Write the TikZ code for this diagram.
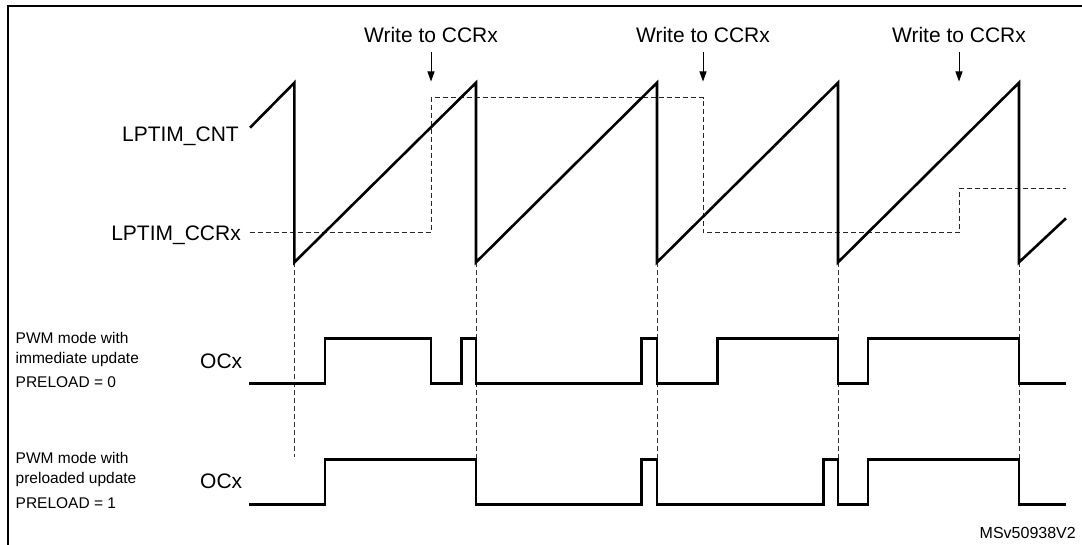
\documentclass[tikz,border=0pt]{standalone}
\usepackage{fontspec}
\setmainfont{Liberation Sans}
\usetikzlibrary{arrows.meta}
\usetikzlibrary{positioning}

\begin{document}
\begin{tikzpicture}[x=1pt, y=-1pt,
		lbl/.style  = {inner sep=0pt, font=\fontsize{21}{25}\selectfont},
		note/.style = {inner sep=0pt, align=left, font=\fontsize{15.5}{20}\selectfont},
		sig/.style  = {line width=2.6pt, line join=miter},
		ccr/.style  = {draw=black!85, line width=1pt, dash pattern=on 5pt off 3pt},
		vline/.style = {draw=black!80, line width=0.9pt, dash pattern=on 5pt off 3pt},
		wr/.style   = {-{Triangle[length=10pt, width=7pt]}, line width=1pt}
		]
		\useasboundingbox (0,0) rectangle (1082,545);
		\clip (0,0) rectangle (1082,545);
		
		%Frame
		\draw[line width=2.3pt] (8,560) -- (8,6) -- (1090,6);
		
		%Nodes
		\node[lbl, anchor=base]			(w1)	at	(431, 43)		{Write to CCRx};
		\node[lbl, anchor=base]			(w2)	at	(703, 43)		{Write to CCRx};
		\node[lbl, anchor=base]			(w3)	at	(959, 43)		{Write to CCRx};
		\coordinate						(t1)	at	(431, 81.5);
		\coordinate						(t2)	at	(703, 81.5);
		\coordinate						(t3)	at	(959, 81.5);
		
		\node[lbl, anchor=base east]	(cnt)	at	(239, 142)		{LPTIM\_CNT};
		\node[lbl, anchor=base east]	(ccr)	at	(241, 240.7)	{LPTIM\_CCRx};
		
		\node[note, anchor=north west]	(m1)	at	(15.5, 332.5)	{PWM mode with\\immediate update\\[3.4pt]PRELOAD = 0};
		\node[lbl, anchor=base west]	(oc1)	at	(200, 368.3)	{OCx};
		\node[note, anchor=north west]	(m2)	at	(15.5, 452.5)	{PWM mode with\\preloaded update\\[4.4pt]PRELOAD = 1};
		\node[lbl, anchor=base west]	(oc2)	at	(200, 488.3)	{OCx};
		
		\node[inner sep=0pt, anchor=base east, font=\fontsize{16}{19}\selectfont]	(ref)	at	(1076, 538.3)	{MSv50938V2};
		
		%Lines
		\draw[wr, shorten <=9pt]	(w1.south)	to	(t1);
		\draw[wr, shorten <=9pt]	(w2.south)	to	(t2);
		\draw[wr, shorten <=9pt]	(w3.south)	to	(t3);
		
		\draw[vline]	(294.4, 262.3)	--	(294.4, 457);
		\draw[vline]	(476, 262.3)	--	(476, 459.3);
		\draw[vline]	(657, 262.3)	--	(657, 459.3);
		\draw[vline]	(838, 262.3)	--	(838, 459.3);
		\draw[vline]	(1019, 262.3)	--	(1019, 459.3);
		
		% compare value
		\draw[ccr]	(250, 233) -- (431, 233) -- (431, 97.7) -- (703, 97.7) -- (703, 233)
					-- (959.5, 233) -- (959.5, 188.3) -- (1066, 188.3);
		
		% counter
		\draw[sig]	(250, 127.7) -- (294.4, 82.7) -- (294.4, 262.3) -- (476, 82.7) -- (476, 262.3)
					-- (657, 82.7) -- (657, 262.3) -- (838, 82.7) -- (838, 262.3)
					-- (1019, 82.7) -- (1019, 262.3) -- (1066, 218.3);
		
		% outputs
		\draw[sig]	(249, 383.7) -| (325, 338.3) -| (431, 383.7) -| (461.4, 338.3) -| (476, 383.7)
					-| (641.7, 338.3) -| (657, 383.7) -| (717.6, 338.3) -| (838, 383.7)
					-| (868, 338.3) -| (1019, 383.7) -- (1066, 383.7);
		\draw[sig]	(249, 504.3) -| (325, 459.3) -| (476, 504.3) -| (641.7, 459.3) -| (657, 504.3)
					-| (823.4, 459.3) -| (838, 504.3) -| (868, 459.3) -| (1019, 504.3) -- (1066, 504.3);
	\end{tikzpicture}
\end{document}
